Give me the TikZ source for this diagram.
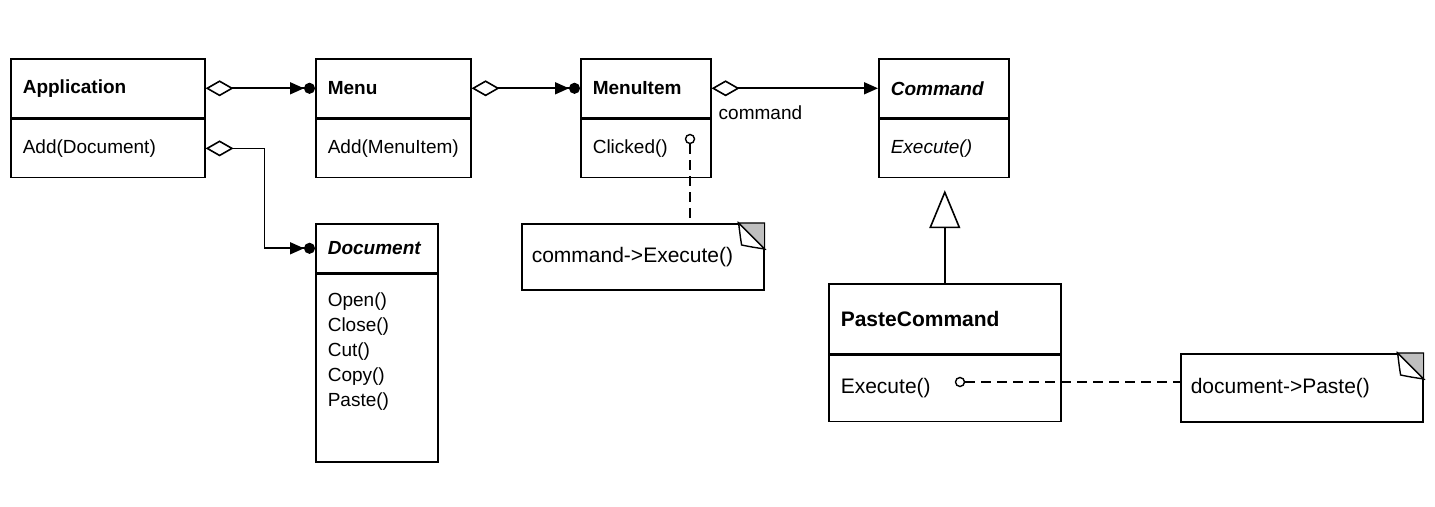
\documentclass[tikz,border=0pt]{standalone}
\usepackage{fontspec}
\setmainfont{Liberation Sans}
\usetikzlibrary{arrows.meta}

\tikzset{
    class head/.style={
        draw,line width=.8pt,anchor=north west,
        text width=#1,align=left,inner xsep=6pt,inner ysep=0pt,
        minimum height=29.5pt,font=\bfseries
    },
    class body/.style={
        draw,line width=.8pt,anchor=north west,
        text width=#1,align=left,inner xsep=6pt,inner ysep=0pt,
        minimum height=29pt
    },
    note/.style={
        draw,line width=.8pt,anchor=north west,
        text width=111pt,align=left,inner xsep=5pt,
        minimum height=33pt,font=\fontsize{10.5}{13}\selectfont
    },
    code dot/.style={draw,circle,inner sep=0pt,minimum size=4.5pt,line width=.7pt},
    aggregate/.style={
        line width=.8pt,
        {Diamond[open,length=14pt,width=8pt]}-{Triangle[length=7pt,width=6pt]Circle[length=5.5pt]}
    },
    reference/.style={
        line width=.8pt,
        {Diamond[open,length=14pt,width=8pt]}-{Triangle[length=7pt,width=6pt]}
    },
    inherits/.style={line width=.8pt,-{Triangle[open,length=19pt,width=15.5pt]},shorten >=6pt},
    note link/.style={line width=.8pt,dash pattern=on 5pt off 3pt}
}

\begin{document}
\begin{tikzpicture}[x=.5pt,y=-.5pt,node font=\fontsize{9.5}{12.5}\selectfont]
    \useasboundingbox (0,0) rectangle (1435,507);
    % classes
    \node[class head=85pt] (app) at (10,58) {Application};
    \node[class body=85pt] (appops) at (app.south west) {Add(Document)};
    \node[class head=65.5pt] (menu) at (315,58) {Menu};
    \node[class body=65.5pt] (menuops) at (menu.south west) {Add(MenuItem)};
    \node[class head=53pt] (item) at (580,58) {MenuItem};
    \node[class body=53pt] (itemops) at (item.south west) {Clicked()};
    \node[class head=53pt] (cmd) at (878,58) {\textit{Command}};
    \node[class body=53pt] (cmdops) at (cmd.south west) {\textit{Execute()}};
    \node[class head=49pt,minimum height=24.5pt] (doc) at (315,223) {\textit{Document}};
    \node[class body=49pt,inner ysep=9pt,text depth=69pt] (docops) at (doc.south west)
        {Open()\\Close()\\Cut()\\Copy()\\Paste()};
    \node[class head=104pt,minimum height=35pt,font=\bfseries\fontsize{10.5}{13}\selectfont] (paste) at (828,283) {PasteCommand};
    \node[class body=104pt,minimum height=33pt,font=\fontsize{10.5}{13}\selectfont] (pasteops) at (paste.south west) {Execute()};

    % notes
    \node[note] (exnote) at (521,223) {command->Execute()};
    \node[note,minimum height=34pt] (pastenote) at (1180,353) {document->Paste()};
    \foreach \n in {exnote,pastenote} {
        \filldraw[fill=gray!50,line width=.6pt] ([xshift=-13pt]\n.north east) -- (\n.north east) -- ([yshift=-13pt]\n.north east) -- cycle;
        \draw[fill=white,line width=.7pt] ([xshift=-13pt]\n.north east) .. controls +(1pt,-8pt) .. ([xshift=-11.5pt,yshift=-11pt]\n.north east)
            .. controls +(5pt,-1pt) .. ([yshift=-13pt]\n.north east) -- cycle;
    }

    % connectors
    \draw[aggregate] (app) -- (menu);
    \draw[aggregate] (menu) -- (item);
    \draw[reference] (item) -- node[pos=0,below right,yshift=-5pt] {command} (cmd);
    \draw[aggregate] (appops.east) -- ++(59,0) |- (doc.west);
    \draw[inherits] (paste.north) -- (paste.north |- cmdops.south);

    \node[code dot] (clicked) at (690,139) {};
    \draw[note link] (clicked) -- (clicked |- exnote.north);
    \node[code dot] (pasting) at (960,382) {};
    \draw[note link] (pasting) -- (pasting -| pastenote.west);
\end{tikzpicture}
\end{document}
